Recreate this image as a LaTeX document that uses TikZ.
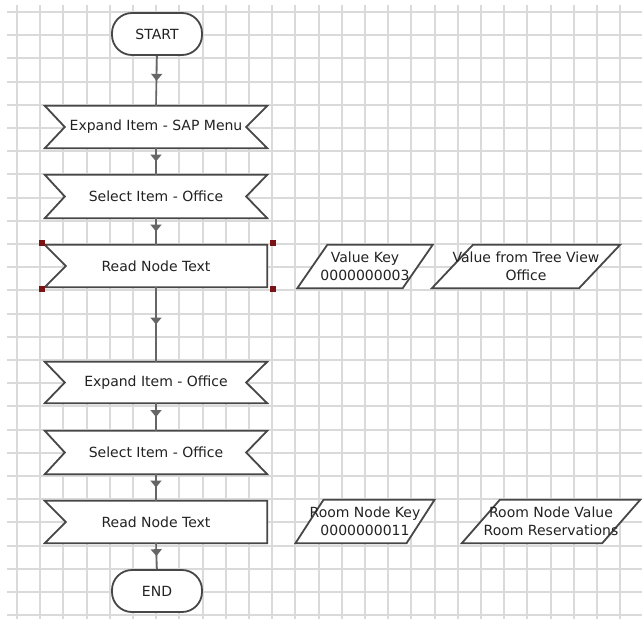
\documentclass[tikz,border=0pt]{standalone}
\usepackage{fontspec}
\setmainfont{DejaVu Sans}
\usetikzlibrary{decorations.markings,arrows.meta,calc}
\pgfdeclarelayer{gridlayer}
\pgfdeclarelayer{bg}
\pgfsetlayers{gridlayer,bg,main}
\definecolor{gridc}{HTML}{DADADA}
\definecolor{linec}{HTML}{474747}
\definecolor{connc}{HTML}{666666}
\definecolor{textc}{HTML}{222222}
\definecolor{handlec}{HTML}{7A1414}
\begin{document}
\begin{tikzpicture}[x=1pt,y=-1pt,
  txt/.style={font=\fontsize{14}{18}\selectfont, text=textc, align=center},
  box/.style={txt, minimum width=222pt, minimum height=42pt, inner sep=0pt},
  term/.style={txt, draw=linec, line width=1.8pt, fill=white, rounded corners=20pt, minimum width=90pt, minimum height=42pt, inner sep=0pt},
  para/.style={txt, minimum height=43pt, inner sep=0pt},
  outline/.style={draw=linec, line width=1.8pt, fill=white, line join=miter},
  conn/.style={draw=connc, line width=1.6pt, postaction={decorate},
    decoration={markings, mark=at position 0.5 with {\arrow[connc]{Triangle[width=11pt,length=7pt]}}}},
  handle/.style={fill=handlec, minimum size=6pt, inner sep=0pt}]
\useasboundingbox (0,0) rectangle (642,619);
\begin{pgfonlayer}{gridlayer}
\fill[white] (0,0) rectangle (642,619);
\foreach \i in {0,...,26} {
  \pgfmathsetmacro{\gx}{round(17+23.2*\i)}
  \pgfmathsetmacro{\gy}{round(12+23.2*\i)}
  \draw[gridc, line width=1.6pt] (\gx,5) -- (\gx,619);
  \draw[gridc, line width=1.6pt] (7,\gy) -- (642,\gy);
}
\end{pgfonlayer}
% nodes
\node[term] (start) at (157,34) {START};
\node[box] (e1) at (156,127) {Expand Item - SAP Menu};
\node[box, minimum height=43pt] (s1) at (156,196.5) {Select Item - Office};
\node[box] (r1) at (156,266) {Read Node Text};
\node[box, minimum height=41pt] (e2) at (156,382.5) {Expand Item - Office};
\node[box, minimum height=43pt] (s2) at (156,452.5) {Select Item - Office};
\node[box] (r2) at (156,522) {Read Node Text};
\node[term] (end) at (157,591) {END};
\node[para, minimum width=105pt] (vk) at (365,266.5) {Value Key\\0000000003};
\node[para, minimum width=138pt] (vt) at (526,266.5) {Value from Tree View\\Office};
\node[para, minimum width=107pt] (rk) at (365,521.5) {Room Node Key\\0000000011};
\node[para, minimum width=140pt] (rv) at (551,521.5) {Room Node Value\\Room Reservations};
\begin{pgfonlayer}{bg}
  \foreach \n in {e1,s1,e2,s2} {
    \draw[outline] (\n.north west) -- (\n.north east) -- ($(\n.east)+(-21,0)$) -- (\n.south east)
      -- (\n.south west) -- ($(\n.west)+(20,0)$) -- cycle;
  }
  \foreach \n in {r1,r2} {
    \draw[outline] (\n.north west) -- (\n.north east) -- (\n.south east)
      -- (\n.south west) -- ($(\n.west)+(21,0)$) -- cycle;
  }
  \draw[outline] ($(vk.north west)+(15,0)$) -- ($(vk.north east)+(15,0)$) -- ($(vk.south east)+(-15,0)$) -- ($(vk.south west)+(-15,0)$) -- cycle;
  \draw[outline] ($(vt.north west)+(20.5,0)$) -- ($(vt.north east)+(20.5,0)$) -- ($(vt.south east)+(-20.5,0)$) -- ($(vt.south west)+(-20.5,0)$) -- cycle;
  \draw[outline] ($(rk.north west)+(14,0)$) -- ($(rk.north east)+(14,0)$) -- ($(rk.south east)+(-14,0)$) -- ($(rk.south west)+(-14,0)$) -- cycle;
  \draw[outline] ($(rv.north west)+(19,0)$) -- ($(rv.north east)+(19,0)$) -- ($(rv.south east)+(-19,0)$) -- ($(rv.south west)+(-19,0)$) -- cycle;
\end{pgfonlayer}
% connectors
\draw[conn] (start.south) -- (e1.north);
\draw[conn] (e1.south) -- (s1.north);
\draw[conn] (s1.south) -- (r1.north);
\draw[conn] (r1.south) -- (e2.north);
\draw[conn] (e2.south) -- (s2.north);
\draw[conn] (s2.south) -- (r2.north);
\draw[conn] (r2.south) -- (end.north);
% selection handles
\node[handle] (h1) at ($(r1.north west)+(-3,-1.5)$) {};
\node[handle] (h2) at ($(r1.north east)+(6,-1.5)$) {};
\node[handle] (h3) at ($(r1.south west)+(-3,2)$) {};
\node[handle] (h4) at ($(r1.south east)+(6,2)$) {};
\end{tikzpicture}
\end{document}
